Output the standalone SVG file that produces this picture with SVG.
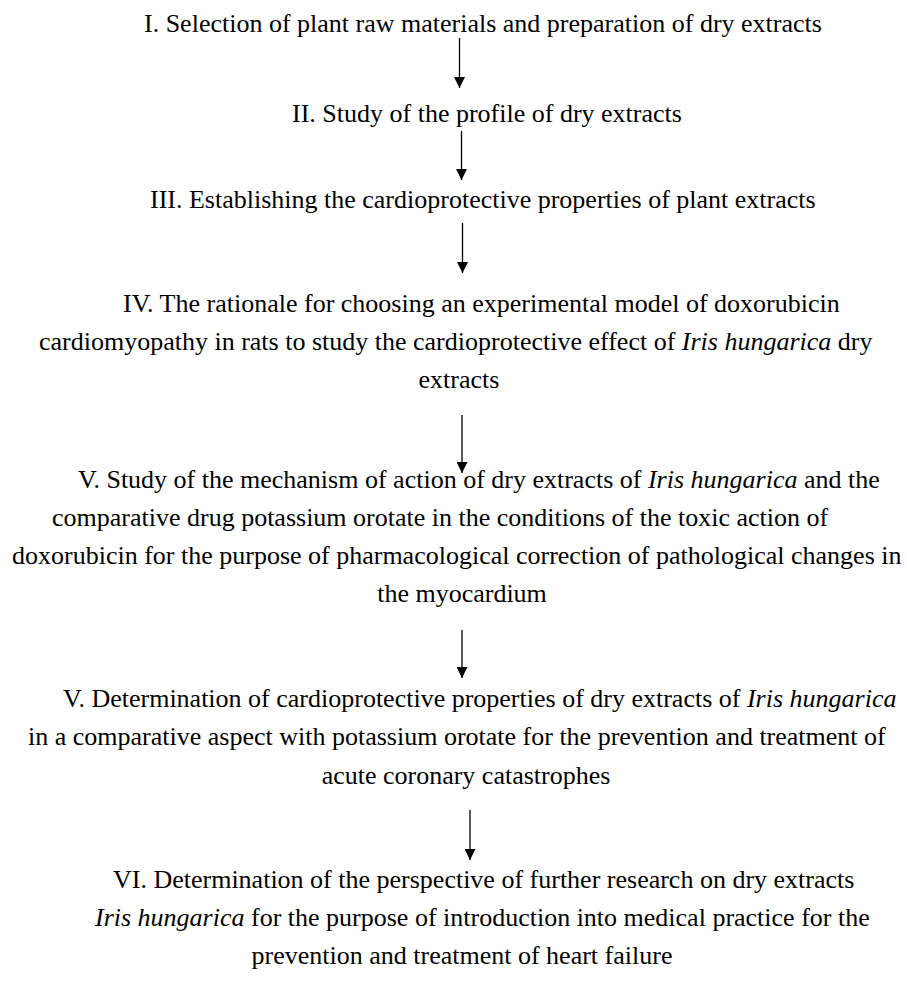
<svg xmlns="http://www.w3.org/2000/svg" width="907" height="983" viewBox="0 0 907 983">
<defs>
<style>
text{font-family:"Liberation Serif","Times New Roman",serif;font-size:26px;fill:#000}
.m{text-anchor:middle}
.i{font-style:italic}
.c{stroke:#000;stroke-width:1.3;fill:none}
</style>
<marker id="ah" viewBox="0 0 10 10" refX="10" refY="5" markerWidth="11" markerHeight="11" markerUnits="userSpaceOnUse" orient="auto">
<path d="M0,0 L10,5 L0,10 z" fill="#000"/>
</marker>
</defs>
<rect width="907" height="983" fill="#fff"/>
<g id="n1"><text x="144" y="32">I. Selection of plant raw materials and preparation of dry extracts</text></g>
<g id="n2"><text x="292" y="122">II. Study of the profile of dry extracts</text></g>
<g id="n3"><text x="150" y="208">III. Establishing the cardioprotective properties of plant extracts</text></g>
<g id="n4">
<text x="123" y="312">IV. The rationale for choosing an experimental model of doxorubicin</text>
<text x="39" y="350">cardiomyopathy in rats to study the cardioprotective effect of <tspan class="i">Iris hungarica</tspan> dry</text>
<text class="m" x="459" y="388">extracts</text>
</g>
<g id="n5">
<text x="78" y="488">V. Study of the mechanism of action of dry extracts of <tspan class="i">Iris hungarica</tspan> and the</text>
<text x="52" y="526">comparative drug potassium orotate in the conditions of the toxic action of</text>
<text x="12" y="564">doxorubicin for the purpose of pharmacological correction of pathological changes in</text>
<text class="m" x="462" y="602">the myocardium</text>
</g>
<g id="n6">
<text x="63" y="707">V. Determination of cardioprotective properties of dry extracts of <tspan class="i">Iris hungarica</tspan></text>
<text x="28" y="745">in a comparative aspect with potassium orotate for the prevention and treatment of</text>
<text class="m" x="466" y="784">acute coronary catastrophes</text>
</g>
<g id="n7">
<text x="113" y="888">VI. Determination of the perspective of further research on dry extracts</text>
<text x="95" y="926"><tspan class="i">Iris hungarica</tspan> for the purpose of introduction into medical practice for the</text>
<text class="m" x="462" y="964">prevention and treatment of heart failure</text>
</g>
<g id="connectors">
<line class="c" x1="459.5" y1="38" x2="459.5" y2="88" marker-end="url(#ah)"/>
<line class="c" x1="461.5" y1="131" x2="461.5" y2="180" marker-end="url(#ah)"/>
<line class="c" x1="462.5" y1="223" x2="462.5" y2="273" marker-end="url(#ah)"/>
<line class="c" x1="462" y1="415" x2="462" y2="473" marker-end="url(#ah)"/>
<line class="c" x1="462" y1="630" x2="462" y2="678" marker-end="url(#ah)"/>
<line class="c" x1="470" y1="810" x2="470" y2="860" marker-end="url(#ah)"/>
</g>
</svg>
